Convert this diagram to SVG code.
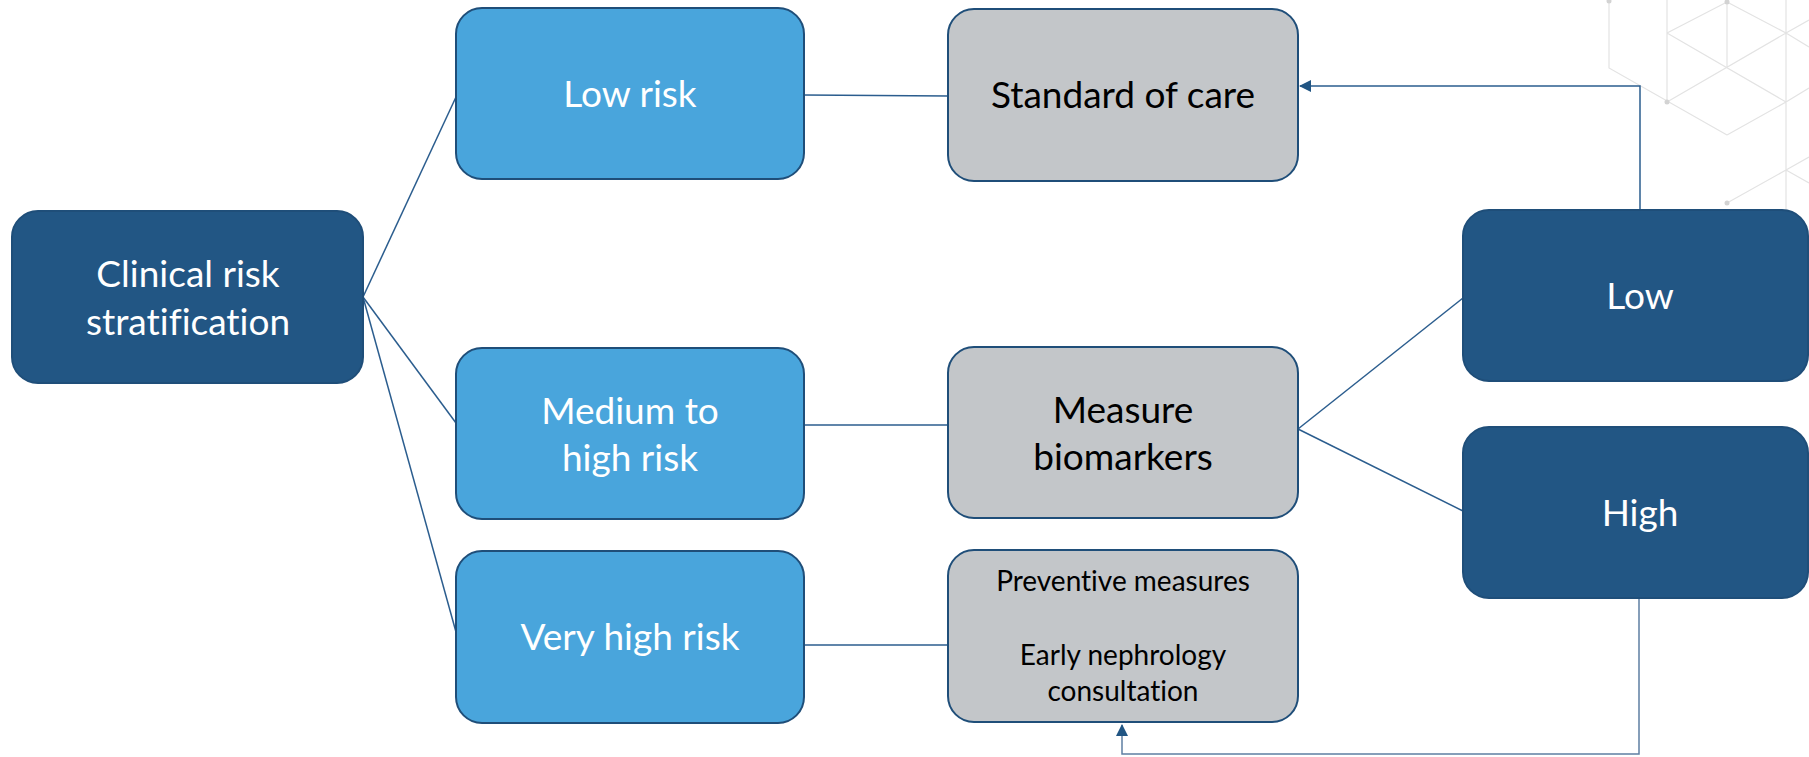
<svg xmlns="http://www.w3.org/2000/svg" width="1809" height="757" viewBox="0 0 1809 757">
  <style>
    .box { stroke: #1f4e79; stroke-width: 2; }
    .navy { fill: #225684; }
    .sky { fill: #49a5dc; }
    .grey { fill: #c3c6c9; }
    .lbl { font-family: "Lato", "Liberation Sans", sans-serif; font-size: 37px; text-anchor: middle; font-variant-ligatures: none; }
    .light { fill: #ffffff; }
    .dark { fill: #000000; }
    .small { font-size: 28px; }
    .wire { fill: none; stroke: #2b5d8e; stroke-width: 1.5; }
    .grid { fill: none; stroke: #e3e3e3; stroke-width: 1.2; }
    .dot { fill: #d3d3d3; }
  </style>
  <defs>
    <marker id="arrow" viewBox="0 0 12 12" refX="11" refY="6" markerWidth="12" markerHeight="12" markerUnits="userSpaceOnUse" orient="auto">
      <path d="M0,0 L12,6 L0,12 Z" fill="#215583"/>
    </marker>
  </defs>

  <rect width="1809" height="757" fill="#ffffff"/>

  <!-- decorative isometric grid, top right -->
  <g id="backdrop">
    <path class="grid" d="M1609,0 V68 L1727,135 M1667,0 V102 M1727,2 V68 M1786,0 V220
      M1727,2 L1786,33 M1727,2 L1667,33 M1667,33 L1786,102 M1786,33 L1667,102
      M1786,33 L1809,20 M1786,33 L1809,47 M1786,102 L1809,88 M1786,102 L1727,135
      M1786,170 L1809,157 M1786,170 L1727,203 M1786,170 L1809,183"/>
    <circle class="dot" cx="1609" cy="1" r="2.5"/>
    <circle class="dot" cx="1727" cy="2" r="2.5"/>
    <circle class="dot" cx="1667" cy="102" r="2.5"/>
    <circle class="dot" cx="1727" cy="203" r="2.5"/>
  </g>

  <!-- connectors -->
  <g id="connectors">
    <line class="wire" x1="363" y1="297" x2="456" y2="97"/>
    <line class="wire" x1="363" y1="297" x2="456" y2="423"/>
    <line class="wire" x1="363" y1="297" x2="456" y2="632"/>
    <line class="wire" x1="804" y1="95" x2="948" y2="96"/>
    <line class="wire" x1="804" y1="425" x2="948" y2="425"/>
    <line class="wire" x1="804" y1="645" x2="948" y2="645"/>
    <line class="wire" x1="1298" y1="429" x2="1463" y2="298"/>
    <line class="wire" x1="1298" y1="429" x2="1463" y2="511"/>
    <polyline class="wire" points="1640,209 1640,86 1300,86" marker-end="url(#arrow)"/>
    <polyline class="wire" points="1639,599 1639,754 1122,754 1122,725" marker-end="url(#arrow)" style="stroke:#5f7fa3"/>
  </g>

  <g id="clinical">
    <rect class="box navy" x="12" y="211" width="351" height="172" rx="26"/>
    <text class="lbl light" x="188" y="287">Clinical risk</text>
    <text class="lbl light" x="188" y="335">stratification</text>
  </g>

  <g id="low-risk">
    <rect class="box sky" x="456" y="8" width="348" height="171" rx="26"/>
    <text class="lbl light" x="630" y="107">Low risk</text>
  </g>

  <g id="medium-risk">
    <rect class="box sky" x="456" y="348" width="348" height="171" rx="26"/>
    <text class="lbl light" x="630" y="424">Medium to</text>
    <text class="lbl light" x="630" y="471">high risk</text>
  </g>

  <g id="very-high-risk">
    <rect class="box sky" x="456" y="551" width="348" height="172" rx="26"/>
    <text class="lbl light" x="630" y="650">Very high risk</text>
  </g>

  <g id="standard-care">
    <rect class="box grey" x="948" y="9" width="350" height="172" rx="26"/>
    <text class="lbl dark" x="1123" y="108">Standard of care</text>
  </g>

  <g id="biomarkers">
    <rect class="box grey" x="948" y="347" width="350" height="171" rx="26"/>
    <text class="lbl dark" x="1123" y="423">Measure</text>
    <text class="lbl dark" x="1123" y="470">biomarkers</text>
  </g>

  <g id="prevention">
    <rect class="box grey" x="948" y="550" width="350" height="172" rx="26"/>
    <text class="lbl dark small" x="1123" y="591">Preventive measures</text>
    <text class="lbl dark small" x="1123" y="665">Early nephrology</text>
    <text class="lbl dark small" x="1123" y="701">consultation</text>
  </g>

  <g id="result-low">
    <rect class="box navy" x="1463" y="210" width="345" height="171" rx="26"/>
    <text class="lbl light" x="1640" y="309">Low</text>
  </g>

  <g id="result-high">
    <rect class="box navy" x="1463" y="427" width="345" height="171" rx="26"/>
    <text class="lbl light" x="1640" y="526">High</text>
  </g>
</svg>
